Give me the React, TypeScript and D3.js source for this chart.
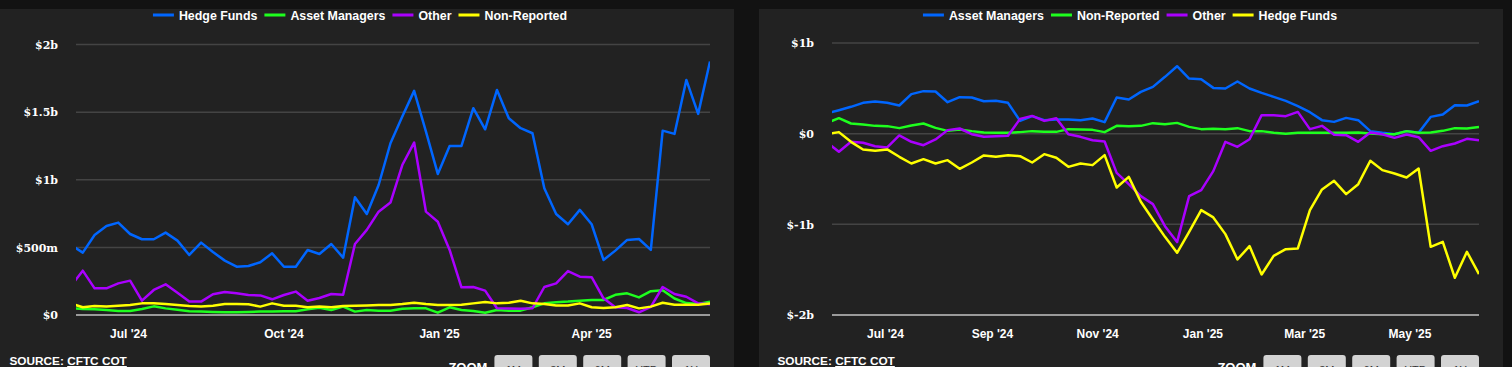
import React from 'react';
import * as d3 from 'd3';

// Weekly CFTC COT report dates (Tuesdays)
const dates: Date[] = d3.range(55).map((i) => d3.timeDay.offset(new Date(2024, 4, 28), 7 * i));

// ---- Left chart (long positions, $m) ----
const leftHedgeFunds = [518, 461, 592, 658, 683, 599, 560, 560, 609, 550, 444, 535, 466, 402, 357, 362, 390, 456, 357, 357, 481, 451, 525, 424,
  870, 747, 961, 1270, 1467, 1657, 1356, 1043, 1250, 1250, 1529, 1373, 1664, 1455, 1381, 1344, 937, 747, 671, 777, 671, 407, 476, 555, 562, 481, 1363, 1339, 1738, 1487, 1875];
const leftAssetManagers = [52, 44, 42, 37, 30, 30, 44, 64, 49, 39, 27, 25, 22, 20, 20, 22, 25, 25, 27, 27, 42, 54, 37, 62,
  25, 37, 32, 32, 47, 49, 49, 17, 57, 37, 30, 17, 37, 32, 32, 57, 86, 94, 99, 106, 111, 111, 149, 160, 130, 176, 183, 122, 88, 82, 99];
const leftOther = [214, 328, 197, 197, 234, 254, 106, 185, 227, 165, 99, 99, 153, 170, 160, 148, 145, 116, 148, 173, 106, 126, 155, 150,
  525, 629, 764, 831, 1109, 1275, 764, 690, 481, 205, 207, 180, 50, 48, 47, 50, 207, 234, 325, 283, 280, 123, 57, 52, 20, 60, 207, 155, 135, 86, 80];
const leftNonReported = [85, 57, 67, 62, 69, 74, 86, 86, 81, 74, 67, 62, 69, 81, 81, 79, 62, 86, 69, 69, 57, 62, 57, 67,
  69, 71, 74, 74, 81, 91, 81, 74, 74, 76, 86, 96, 86, 91, 106, 86, 81, 71, 71, 86, 57, 52, 57, 74, 49, 62, 91, 76, 76, 76, 86];

// ---- Right chart (net positions, $m) ----
const rightAssetManagers = [223, 259, 296, 340, 355, 340, 311, 436, 469, 465, 347, 402, 399, 358, 362, 340,
  141, 193, 149, 156, 156, 149, 167, 127, 399, 377, 461, 516, 627, 744, 608, 601, 505, 498, 575, 498, 450, 406, 362, 303, 237, 149, 130, 174, 149, 28, 9, -6, 28, 9, 185, 212, 314, 311, 358];
const rightNonReported = [119, 171, 112, 101, 86, 83, 61, 90, 112, 64, 31, 46, 28, 13, 9, 9,
  17, 28, 20, 20, 50, 46, 42, 17, 86, 83, 86, 116, 105, 119, 75, 50, 53, 50, 61, 28, 28, 9, -2, 9, 9, 9, 9, 9, 13, 2, -6, -6, 28, 9, 13, 31, 61, 57, 75];
const rightOther = [-94, -200, -90, -101, -138, -152, -20, -90, -127, -64, 39, 57, -6, -35, -28, -24,
  163, 196, 141, 171, -6, -35, -72, -86, -432, -557, -689, -777, -1020, -1196, -689, -623, -413, -90, -145, -61, 204, 204, 193, 240, 50, 86, -13, -17, -90, 13, -6, -46, -9, -39, -189, -138, -108, -57, -72];
const rightHedgeFunds = [-5, 17, -90, -174, -189, -174, -255, -329, -281, -329, -292, -388, -318, -240, -255, -238,
  -248, -318, -226, -266, -366, -329, -347, -237, -594, -477, -751, -946, -1138, -1314, -1083, -843, -924, -1108, -1387, -1240, -1553, -1348, -1274, -1266, -843, -615, -520, -667, -557, -299, -402, -439, -483, -384, -1248, -1193, -1590, -1303, -1549];

const leftYTicks = [0, 500, 1000, 1500, 2000];
const rightYTicks = [-2000, -1000, 0, 1000];
const zoomLabels = ['1M', '3M', '6M', 'YTD', '1Y'];

const BLUE = '#0066ff';
const GREEN = '#1eff1e';
const PURPLE = '#aa00ff';
const YELLOW = '#ffff00';

const fmtMoney = (v: number) => {
  if (v === 0) return '$0';
  const a = Math.abs(v);
  const s = v < 0 ? '-' : '';
  if (a >= 1000) return `$${s}${d3.format('~')(a / 1000)}b`;
  return `$${s}${a}m`;
};

const LEGEND_FONT = "bold 12.4px 'Liberation Sans', Arial, sans-serif";
let ctx: CanvasRenderingContext2D | null = null;
const measure = (t: string) => {
  if (!ctx) ctx = document.createElement('canvas').getContext('2d');
  ctx!.font = LEGEND_FONT;
  return ctx!.measureText(t).width;
};

type Series = { name: string; color: string; values: number[] };

function Chart(props: {
  id: string;
  panelX: number;
  panelW: number;
  plotX0: number;
  plotX1: number;
  yTop: number;
  yBottom: number;
  domain: [number, number];
  ticks: number[];
  series: Series[];
  monthEvery: number;
  legendCX: number;
  sourceX: number;
}) {
  const { id, panelX, panelW, plotX0, plotX1, yTop, yBottom, domain, ticks, series, monthEvery, legendCX, sourceX } = props;
  const x = d3.scaleTime().domain([new Date(2024, 4, 31), new Date(2025, 5, 10)]).range([plotX0, plotX1]);
  const y = d3.scaleLinear().domain(domain).range([yBottom, yTop]);
  const line = d3.line<number>().x((_, i) => x(dates[i])).y((d) => y(d));
  const xTicks = x.ticks(d3.timeMonth.every(monthEvery)!);
  const xFmt = d3.timeFormat("%b '%y");

  // legend layout
  const sw = 21, gap1 = 5, gap2 = 7;
  const widths = series.map((s) => sw + gap1 + measure(s.name));
  const total = d3.sum(widths) + gap2 * (series.length - 1);
  let cursor = legendCX - total / 2;
  const legendItems = series.map((s, i) => {
    const item = { ...s, x: cursor };
    cursor += widths[i] + gap2;
    return item;
  });

  const btnW = 38, btnStep = 44.4;
  const btnStart = plotX1 - btnW - btnStep * (zoomLabels.length - 1);

  return (
    <g>
      <rect x={panelX} y={9} width={panelW} height={400} fill="#222222" />
      <defs>
        <clipPath id={`clip-${id}`}>
          <rect x={plotX0} y={0} width={plotX1 - plotX0} height={yBottom + 5} />
        </clipPath>
      </defs>
      {ticks.map((t, i) => (
        <g key={t}>
          <line
            x1={plotX0}
            x2={plotX1}
            y1={y(t)}
            y2={y(t)}
            stroke={i === 0 ? '#9a9a9a' : '#444444'}
            strokeWidth={i === 0 ? 2 : 1.5}
          />
          <text
            x={plotX0 - 18}
            y={y(t) + 4.2}
            textAnchor="end"
            fill="#ffffff"
            fontFamily="'DejaVu Serif', serif"
            fontWeight="bold"
            fontSize={11}
          >
            {fmtMoney(t)}
          </text>
        </g>
      ))}
      {xTicks.map((d) => (
        <text
          key={+d}
          x={x(d)}
          y={337.5}
          textAnchor="middle"
          fill="#ffffff"
          fontFamily="'Liberation Sans', Arial, sans-serif"
          fontWeight="bold"
          fontSize={12}
        >
          {xFmt(d)}
        </text>
      ))}
      <g clipPath={`url(#clip-${id})`}>
        {series.map((s) => (
          <path key={s.name} d={line(s.values) || ''} fill="none" stroke={s.color} strokeWidth={2.5} strokeLinejoin="round" />
        ))}
      </g>
      {legendItems.map((it) => (
        <g key={it.name}>
          <line x1={it.x} x2={it.x + sw} y1={15} y2={15} stroke={it.color} strokeWidth={3} />
          <text x={it.x + sw + gap1} y={19.5} fill="#ffffff" style={{ font: LEGEND_FONT }}>
            {it.name}
          </text>
        </g>
      ))}
      <text
        x={sourceX}
        y={365}
        fill="#ffffff"
        fontFamily="'Liberation Sans', Arial, sans-serif"
        fontWeight="bold"
        fontSize={11.8}
      >
        SOURCE: <tspan textDecoration="underline">CFTC COT</tspan>
      </text>
      <text
        x={btnStart - 7}
        y={372}
        textAnchor="end"
        fill="#ffffff"
        fontFamily="'Liberation Sans', Arial, sans-serif"
        fontWeight="bold"
        fontSize={13}
      >
        ZOOM
      </text>
      {zoomLabels.map((l, i) => (
        <g key={l}>
          <rect x={btnStart + i * btnStep} y={355} width={btnW} height={30} rx={3} fill="#d3d3d3" />
          <text
            x={btnStart + i * btnStep + btnW / 2}
            y={374}
            textAnchor="middle"
            fill="#333333"
            fontFamily="'Liberation Sans', Arial, sans-serif"
            fontSize={11}
          >
            {l}
          </text>
        </g>
      ))}
    </g>
  );
}

export default function App() {
  const leftSeries: Series[] = [
    { name: 'Hedge Funds', color: BLUE, values: leftHedgeFunds },
    { name: 'Asset Managers', color: GREEN, values: leftAssetManagers },
    { name: 'Other', color: PURPLE, values: leftOther },
    { name: 'Non-Reported', color: YELLOW, values: leftNonReported },
  ];
  const rightSeries: Series[] = [
    { name: 'Asset Managers', color: BLUE, values: rightAssetManagers },
    { name: 'Non-Reported', color: GREEN, values: rightNonReported },
    { name: 'Other', color: PURPLE, values: rightOther },
    { name: 'Hedge Funds', color: YELLOW, values: rightHedgeFunds },
  ];
  return (
    <svg
      width={1512}
      height={367}
      style={{ position: 'absolute', left: 0, top: 0, display: 'block' }}
    >
      <rect x={0} y={0} width={1512} height={367} fill="#121212" />
      <Chart
        id="left"
        panelX={-20}
        panelW={754}
        plotX0={76}
        plotX1={710}
        yTop={44.5}
        yBottom={315}
        domain={[0, 2000]}
        ticks={leftYTicks}
        series={leftSeries}
        monthEvery={3}
        legendCX={360}
        sourceX={9.5}
      />
      <Chart
        id="right"
        panelX={759}
        panelW={744}
        plotX0={832}
        plotX1={1479}
        yTop={43}
        yBottom={315}
        domain={[-2000, 1000]}
        ticks={rightYTicks}
        series={rightSeries}
        monthEvery={2}
        legendCX={1130}
        sourceX={777.5}
      />
    </svg>
  );
}
